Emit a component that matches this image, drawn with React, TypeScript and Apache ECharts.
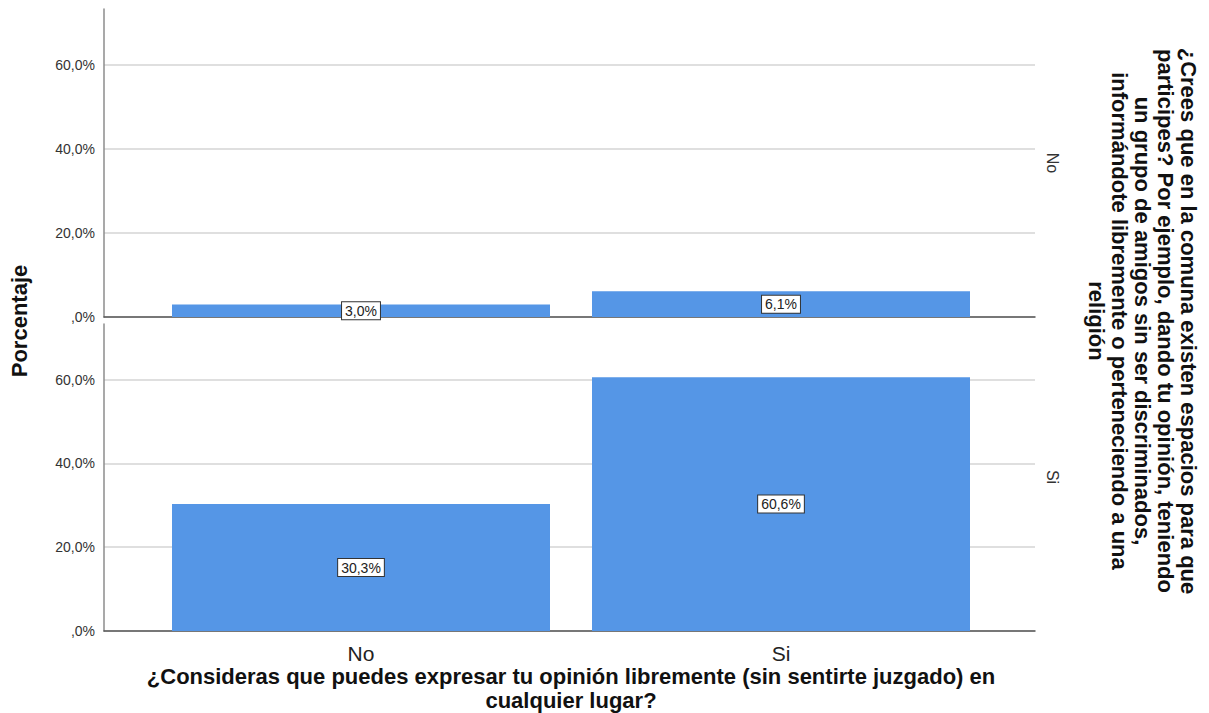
import React, { useEffect, useRef } from "react";
import * as echarts from "echarts";

const categories = ["No", "Si"];
const rowLabels = ["No", "Si"];
const valuesRowNo = [3.0, 6.1];
const valuesRowSi = [30.3, 60.6];
const yTicks = [0, 20, 40, 60];
const xTitle = "¿Consideras que puedes expresar tu opinión libremente (sin sentirte juzgado) en\ncualquier lugar?";
const rowTitle = "¿Crees que en la comuna existen espacios para que\nparticipes? Por ejemplo, dando tu opinión, teniendo\nun grupo de amigos sin ser discriminados,\ninformándote libremente o perteneciendo a una\nreligión";
const yTitle = "Porcentaje";

const fmtTick = (v: number) => {
  if (!yTicks.includes(v)) return "";
  if (v === 0) return ",0%";
  return v.toFixed(1).replace(".", ",") + "%";
};
const fmtVal = (v: number) => v.toFixed(1).replace(".", ",") + "%";

const BAR = "#5596e6";
const SANS = "'Liberation Sans', Arial, sans-serif";
const YMAX = 73.3;

export default function App() {
  const ref = useRef<HTMLDivElement>(null);
  useEffect(() => {
    document.body.style.margin = "0";
    if (!ref.current) return;
    const chart = echarts.init(ref.current, undefined, { renderer: "svg" });
    const yAxisBg = (gi: number) => ({
      type: "value",
      gridIndex: gi,
      min: 0,
      max: YMAX,
      interval: 20,
      axisLine: { show: true, lineStyle: { color: "#8c8c8c", width: 1.5 } },
      axisTick: { show: false },
      axisLabel: {
        formatter: fmtTick,
        fontSize: 14,
        color: "#333",
        fontFamily: SANS,
        margin: 9,
        showMaxLabel: false,
        padding: [6, 0, 0, 0],
      },
      splitLine: { showMaxLine: false, lineStyle: { color: "#d4d4d4", width: 1.5 } },
    });
    const yAxisBar = (gi: number) => ({
      type: "value",
      gridIndex: gi,
      min: 0,
      max: YMAX,
      interval: 20,
      show: false,
      splitLine: { show: false },
    });
    const xAxisBg = (gi: number) => ({
      type: "category",
      gridIndex: gi,
      data: categories,
      axisLine: { show: true, lineStyle: { color: "#555", width: 1.5 } },
      axisTick: { show: false },
      axisLabel: { show: false },
    });
    const xAxisBar = (gi: number, showLabels: boolean) => ({
      type: "category",
      gridIndex: gi,
      data: categories,
      axisLine: { show: false },
      axisTick: { show: false },
      axisLabel: {
        show: showLabels,
        fontSize: 21,
        color: "#222",
        fontFamily: SANS,
        margin: 12,
      },
    });
    const labelCfg = {
      show: true,
      position: "inside",
      formatter: (p: any) => fmtVal(p.value),
      backgroundColor: "#fff",
      borderColor: "#333",
      borderWidth: 1,
      padding: [2, 3, 1, 3],
      fontSize: 14,
      color: "#222",
      fontFamily: SANS,
    };
    chart.setOption({
      animation: false,
      backgroundColor: "#fff",
      grid: [
        { left: 104, top: 9, width: 931, height: 308 },
        { left: 104, top: 324, width: 931, height: 307 },
        { left: 151, top: 9, width: 840, height: 308 },
        { left: 151, top: 324, width: 840, height: 307 },
      ],
      xAxis: [xAxisBg(0), xAxisBg(1), xAxisBar(2, false), xAxisBar(3, true)],
      yAxis: [yAxisBg(0), yAxisBg(1), yAxisBar(2), yAxisBar(3)],
      series: [
        {
          type: "bar",
          xAxisIndex: 2,
          yAxisIndex: 2,
          data: valuesRowNo,
          barWidth: "90%",
          itemStyle: { color: BAR },
          label: labelCfg,
        },
        {
          type: "bar",
          xAxisIndex: 3,
          yAxisIndex: 3,
          data: valuesRowSi,
          barWidth: "90%",
          itemStyle: { color: BAR },
          label: labelCfg,
        },
      ],
      graphic: [
        {
          type: "text",
          x: 19,
          y: 321,
          rotation: Math.PI / 2,
          style: {
            text: yTitle,
            font: `bold 22px ${SANS}`,
            fill: "#111",
            textAlign: "center",
            textVerticalAlign: "middle",
          },
        },
        {
          type: "text",
          x: 1142,
          y: 321,
          rotation: -Math.PI / 2,
          style: {
            text: rowTitle,
            font: `bold 22px ${SANS}`,
            fill: "#111",
            textAlign: "center",
            textVerticalAlign: "middle",
            lineHeight: 23,
          },
        },
        {
          type: "text",
          x: 1052,
          y: 163,
          rotation: -Math.PI / 2,
          style: {
            text: rowLabels[0],
            font: `16px ${SANS}`,
            fill: "#333",
            textAlign: "center",
            textVerticalAlign: "middle",
          },
        },
        {
          type: "text",
          x: 1052,
          y: 477,
          rotation: -Math.PI / 2,
          style: {
            text: rowLabels[1],
            font: `16px ${SANS}`,
            fill: "#333",
            textAlign: "center",
            textVerticalAlign: "middle",
          },
        },
        {
          type: "text",
          x: 571,
          y: 688,
          style: {
            text: xTitle,
            font: `bold 22px ${SANS}`,
            fill: "#111",
            textAlign: "center",
            textVerticalAlign: "middle",
            lineHeight: 24,
          },
        },
      ],
    });
    return () => chart.dispose();
  }, []);
  return <div ref={ref} style={{ width: 1209, height: 713 }} />;
}
